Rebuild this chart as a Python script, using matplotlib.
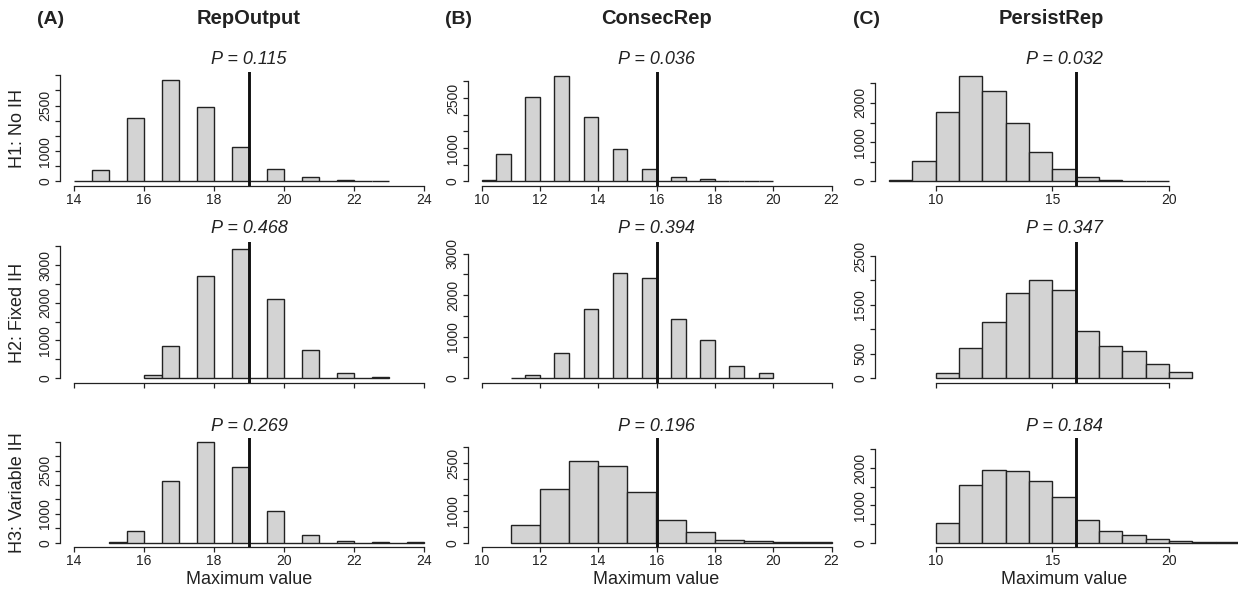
import matplotlib
matplotlib.use("Agg")
import matplotlib.pyplot as plt
import numpy as np

plt.rcParams['font.family'] = ['Liberation Sans', 'DejaVu Sans']

# ---------------- data ----------------
col_titles = ["RepOutput", "ConsecRep", "PersistRep"]
col_tags = ["(A)", "(B)", "(C)"]
row_labels = ["H1: No IH", "H2: Fixed IH", "H3: Variable IH"]
xlabel = "Maximum value"

observed = [19, 16, 16]

p_values = [["0.115", "0.468", "0.269"],
            ["0.036", "0.394", "0.196"],
            ["0.032", "0.347", "0.184"]]

# histogram bins: (first edge, bin width) and counts per bin
A1_bins = (14, 0.5)
A1_counts = [15, 390, 0, 2090, 0, 3330, 0, 2450, 0, 1130, 0, 425, 0, 150, 0, 65, 0, 20]
A2_bins = (16, 0.5)
A2_counts = [80, 840, 0, 2700, 0, 3420, 0, 2090, 0, 745, 0, 140, 0, 18]
A3_bins = (15, 0.5)
A3_counts = [10, 420, 0, 2130, 0, 3480, 0, 2620, 0, 1105, 0, 280, 0, 58, 0, 15, 0, 12]

B1_bins = (10, 0.5)
B1_counts = [50, 810, 0, 2540, 0, 3160, 0, 1940, 0, 970, 0, 360, 0, 140, 0, 60, 0, 15, 0, 10]
B2_bins = (11, 0.5)
B2_counts = [5, 64, 0, 603, 0, 1673, 0, 2542, 0, 2405, 0, 1432, 0, 909, 0, 290, 0, 129]
B3_bins = (11, 1)
B3_counts = [550, 1690, 2580, 2410, 1610, 710, 340, 95, 42, 10, 8]

C1_bins = (8, 1)
C1_counts = [50, 517, 1780, 2686, 2314, 1483, 754, 322, 119, 50, 20, 10]
C2_bins = (10, 1)
C2_counts = [95, 608, 1155, 1750, 2000, 1811, 959, 655, 547, 284, 122]
C3_bins = (10, 1)
C3_counts = [518, 1545, 1938, 1920, 1652, 1214, 598, 313, 196, 89, 45, 9, 8]

x_ticks = [[14, 16, 18, 20, 22, 24],
           [10, 12, 14, 16, 18, 20, 22],
           [10, 15, 20]]

y_ticklabels = [[[0, 1000, 2500], [0, 1000, 2000, 3000], [0, 1000, 2500]],
                [[0, 1000, 2500], [0, 1000, 2000, 3000], [0, 1000, 2500]],
                [[0, 1000, 2000], [0, 500, 1500, 2500], [0, 1000, 2000]]]

panels = [[(A1_bins, A1_counts), (A2_bins, A2_counts), (A3_bins, A3_counts)],
          [(B1_bins, B1_counts), (B2_bins, B2_counts), (B3_bins, B3_counts)],
          [(C1_bins, C1_counts), (C2_bins, C2_counts), (C3_bins, C3_counts)]]

# ---------------- layout ----------------
W, H = 1238, 597
fig = plt.figure(figsize=(W / 100, H / 100), dpi=100)

col_left = [60, 467.5, 875]
ax_w = 378
row_top = [71.7, 241.7, 438.3]
row_bot = [185.7, 383.3, 546.7]
p_y = [60, 229, 426.5]

fill = "#d3d3d3"
edge = "#222222"

for c in range(3):
    # column extent over all rows
    edges_all = []
    ymax = 0
    for (start, width), counts in panels[c]:
        edges_all += [start, start + width * len(counts)]
        ymax = max(ymax, max(counts))
    xlo, xhi = min(edges_all), max(edges_all)
    xr = xhi - xlo
    for r in range(3):
        (start, width), counts = panels[c][r]
        left = col_left[c] / W
        bottom = 1 - row_bot[r] / H
        height = (row_bot[r] - row_top[r]) / H
        ax = fig.add_axes([left, bottom, ax_w / W, height])
        ax.patch.set_alpha(0)
        lefts = start + width * np.arange(len(counts))
        ax.bar(lefts, counts, width=width, align='edge', color=fill,
               edgecolor=edge, linewidth=1.0)
        ax.set_xlim(xlo - 0.04 * xr, xhi + 0.04 * xr)
        ax.set_ylim(-0.04 * ymax, 1.04 * ymax)
        ax.axvline(observed[c], color="#111111", linewidth=2.1, zorder=5)

        for s in ['top', 'right']:
            ax.spines[s].set_visible(False)
        yt = np.arange(0, 1.04 * ymax + 1, 500)
        ax.set_yticks(yt)
        ax.set_yticklabels([str(int(v)) if int(v) in y_ticklabels[c][r] else ""
                            for v in yt], rotation=90, va='center')
        ax.spines['left'].set_bounds(0, yt[-1])
        ax.set_xticks(x_ticks[c])
        if r == 1:
            ax.set_xticklabels([])
        else:
            ax.set_xticklabels([str(v) for v in x_ticks[c]])
        ax.spines['bottom'].set_bounds(x_ticks[c][0], x_ticks[c][-1])
        for s in ['left', 'bottom']:
            ax.spines[s].set_linewidth(0.9)
            ax.spines[s].set_color("#222222")
        ax.tick_params(axis='both', length=3.5, width=0.9, color="#222222",
                       labelsize=10, labelcolor="#222222", pad=2)

        cx = (col_left[c] + ax_w / 2) / W
        fig.text(cx, 1 - p_y[r] / H, "P = " + p_values[c][r], ha='center',
                 va='center', fontsize=13, style='italic', color="#222222")
        if r == 2:
            fig.text(cx, 1 - 580 / H, xlabel, ha='center', va='center',
                     fontsize=13, color="#222222")
        if c == 0:
            fig.text(18 / W, 1 - (row_top[r] + row_bot[r]) / 2 / H, row_labels[r],
                     rotation=90, ha='center', va='center', fontsize=13,
                     color="#222222")

tag_x = [51, 459, 867]
title_x = [249, 657, 1051]
for c in range(3):
    fig.text(tag_x[c] / W, 1 - 19 / H, col_tags[c], ha='center', va='center',
             fontsize=14, fontweight='bold', color="#222222")
    fig.text(title_x[c] / W, 1 - 19 / H, col_titles[c], ha='center', va='center',
             fontsize=14.5, fontweight='bold', color="#222222")

fig.savefig("out.png", dpi=100)
